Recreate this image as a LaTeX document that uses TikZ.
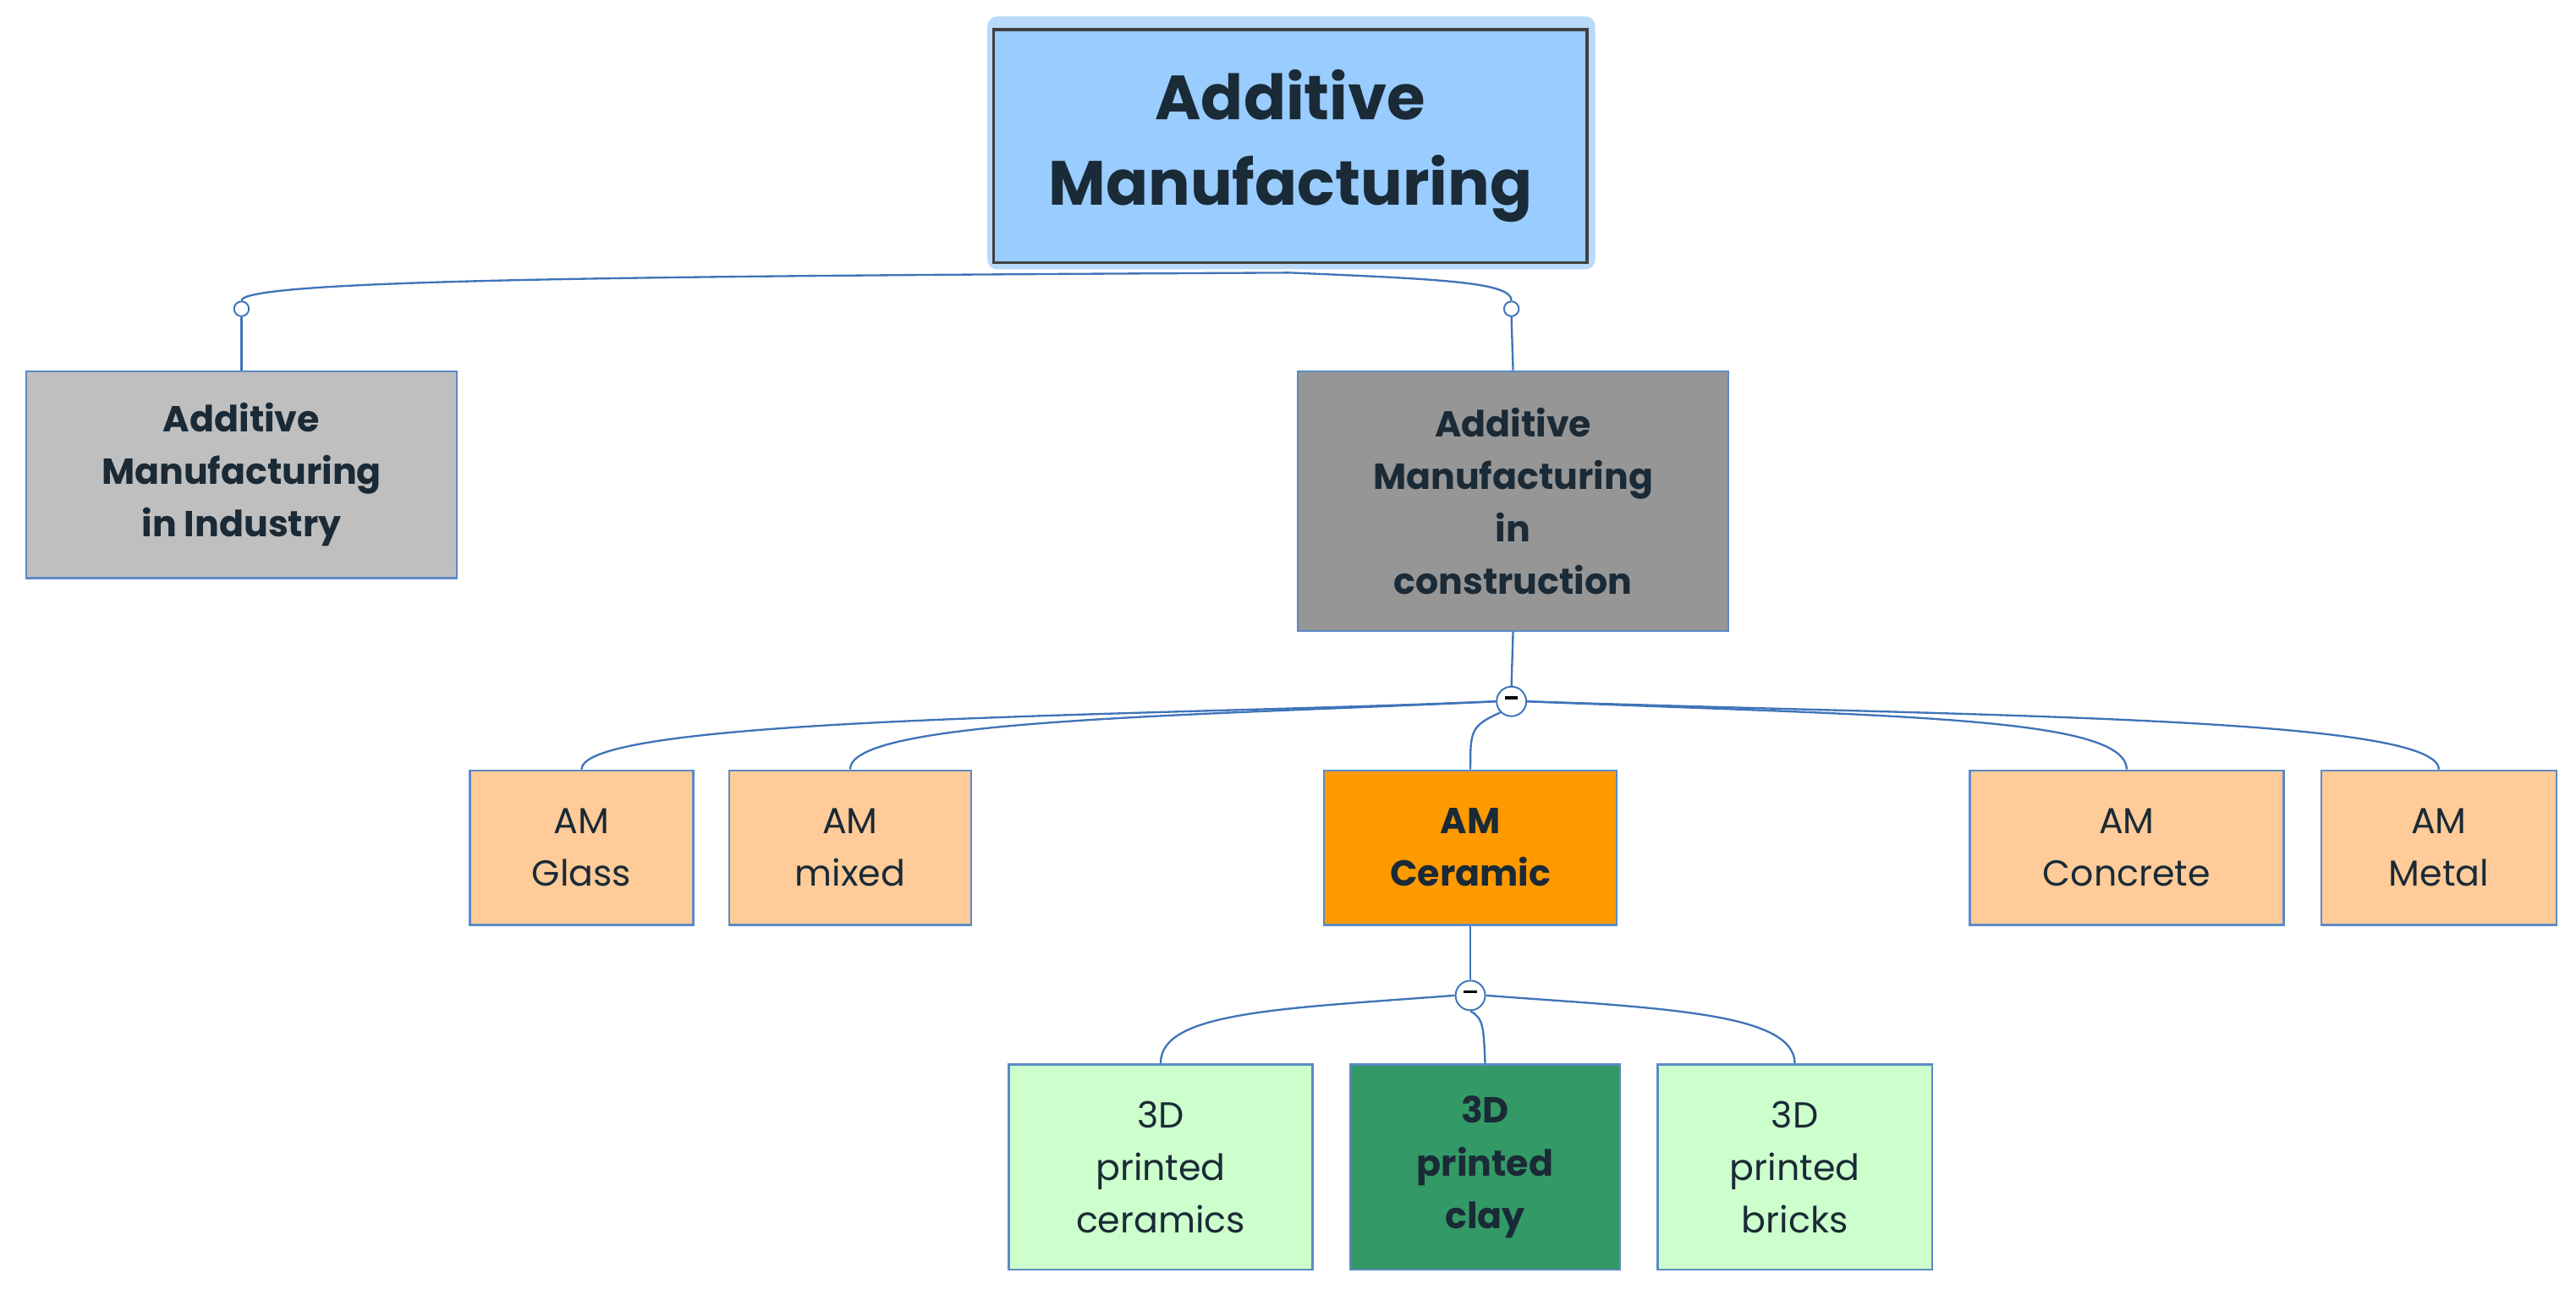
\documentclass[tikz,border=0pt]{standalone}
\usepackage{fontspec}
\setmainfont{Poppins}
\begin{document}
\begin{tikzpicture}[x=0.5pt,y=-0.5pt,
  sz/.style 2 args={minimum width=#1*0.5pt,minimum height=#2*0.5pt},
  box/.style={draw=boxb,line width=0.6pt,inner sep=0pt,align=center,text=txt,font=\fontsize{11}{16}\selectfont},
  conn/.style={draw=lnb,line width=0.6pt},
  dot/.style={circle,draw=lnb,fill=white,line width=0.5pt,inner sep=0pt,minimum size=4.5pt},
  minus/.style={circle,draw=lnb,fill=white,line width=0.5pt,inner sep=0pt,minimum size=9pt}]
\definecolor{boxb}{HTML}{5B8BC5}
\definecolor{lnb}{HTML}{3F74B8}
\definecolor{txt}{HTML}{1A2A36}
\definecolor{lblue}{HTML}{99CCFF}
\definecolor{glow}{HTML}{B8D9FA}
\definecolor{peach}{HTML}{FFCC99}
\definecolor{orng}{HTML}{FF9900}
\definecolor{mint}{HTML}{CCFFCC}
\definecolor{dgreen}{HTML}{339966}
\useasboundingbox (0,0) rectangle (1568,788);
% top
\fill[glow,rounded corners=3pt] (601,10) rectangle (971,164);
\node[box,draw=black!75,fill=lblue,line width=0.8pt,sz={361}{142},font=\fontsize{19}{26}\selectfont\bfseries] (top) at (785.5,89) {Additive\\Manufacturing};
\node[box,fill=black!25,sz={262}{126},font=\fontsize{11}{16}\selectfont\bfseries] (ind) at (147,289) {Additive\\Manufacturing\\in Industry};
\node[box,fill=black!41,sz={262}{158},font=\fontsize{11}{16}\selectfont\bfseries] (con) at (921,305) {Additive\\Manufacturing\\in\\construction};
\node[box,fill=peach,sz={136}{94}] (gl) at (354,516) {AM\\Glass};
\node[box,fill=peach,sz={147}{94}] (mx) at (517.5,516) {AM\\mixed};
\node[box,fill=orng,sz={178}{94},font=\fontsize{11}{16}\selectfont\bfseries] (cer) at (895,516) {AM\\Ceramic};
\node[box,fill=peach,sz={191}{94}] (cc) at (1294.5,516) {AM\\Concrete};
\node[box,fill=peach,sz={143}{94}] (mt) at (1484.5,516) {AM\\Metal};
\node[box,fill=mint,sz={185}{125}] (c3) at (706.5,710.5) {3D\\printed\\ceramics};
\node[box,fill=dgreen,sz={164}{125},font=\fontsize{11}{16}\selectfont\bfseries] (cl) at (904,710.5) {3D\\printed\\clay};
\node[box,fill=mint,sz={167}{125}] (br) at (1092.5,710.5) {3D\\printed\\bricks};
% level 1 connectors
\coordinate (ts) at (785,166);
\node[dot] (d1) at (147,188) {};
\node[dot] (d2) at (920,188) {};
\draw[conn] (ts) .. controls (400,168) and (147,170) .. (d1.north);
\draw[conn] (ts) .. controls (880,170) and (920,172) .. (d2.north);
\draw[conn] (d1.south) -- (ind.north);
\draw[conn] (d2.south) -- (con.north);
% level 2
\node[minus] (m1) at (920,427) {\rule[0.4ex]{4pt}{0.9pt}};
\draw[conn] (con.south) -- (m1.north);
\draw[conn] (m1.west) .. controls (700,436) and (354,436) .. (gl.north);
\draw[conn] (m1.west) .. controls (720,436) and (517,438) .. (mx.north);
\draw[conn] (m1.south west) .. controls (895,442) and (895,445) .. (cer.north);
\draw[conn] (m1.east) .. controls (1150,436) and (1294,436) .. (cc.north);
\draw[conn] (m1.east) .. controls (1200,436) and (1484,436) .. (mt.north);
% level 3
\node[minus] (m2) at (895,606) {\rule[0.4ex]{4pt}{0.9pt}};
\draw[conn] (cer.south) -- (m2.north);
\draw[conn] (m2.west) .. controls (780,614) and (706,616) .. (c3.north);
\draw[conn] (m2.south) .. controls (903,620) and (903,625) .. (cl.north);
\draw[conn] (m2.east) .. controls (1010,614) and (1092,616) .. (br.north);
\end{tikzpicture}
\end{document}
